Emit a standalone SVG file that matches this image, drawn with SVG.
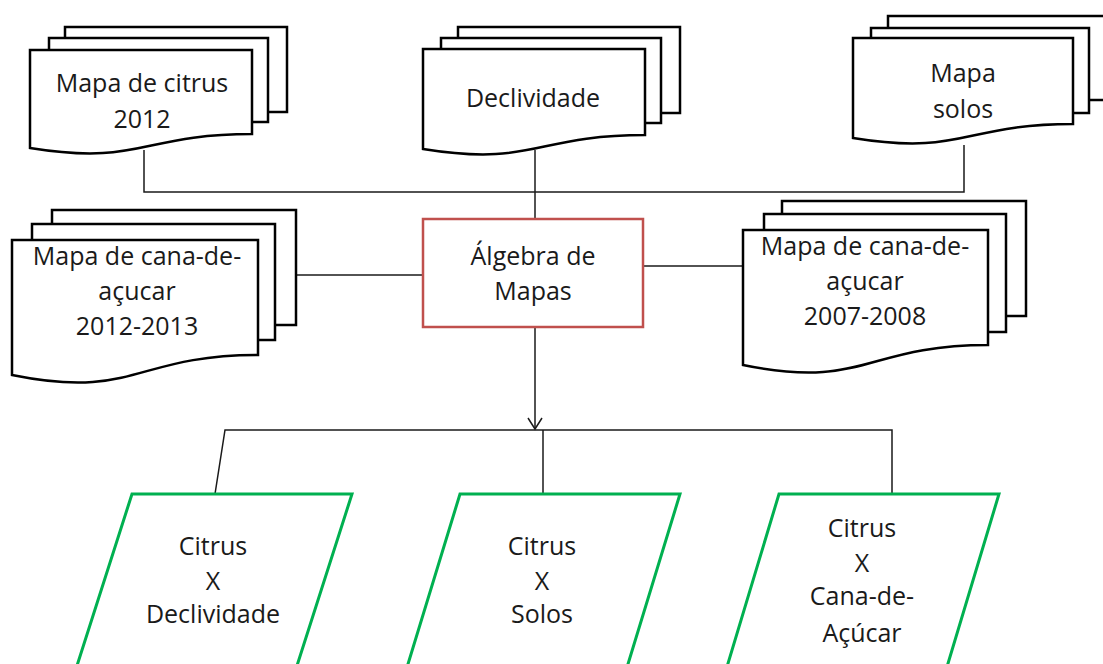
<svg xmlns="http://www.w3.org/2000/svg" width="1103" height="664" viewBox="0 0 1103 664">
<style>
.pg{fill:#fff;stroke:#000;stroke-width:2.5;stroke-linejoin:miter}
.io{fill:#fff;stroke:#00B050;stroke-width:3}
.proc{fill:#fff;stroke:#C0504D;stroke-width:2.5}
.cn{fill:none;stroke:#1a1a1a;stroke-width:1.5}
text{font-family:"Open Sans","Liberation Sans",sans-serif;font-size:25px;fill:#1a1a1a;text-anchor:middle}
</style>
<defs>
<marker id="arr" viewBox="0 0 14 16" refX="12" refY="8" markerWidth="14" markerHeight="16" markerUnits="userSpaceOnUse" orient="auto">
<path d="M1,1 L12,8 L1,15" fill="none" stroke="#1a1a1a" stroke-width="1.5"/>
</marker>
</defs>
<rect width="1103" height="664" fill="#fff"/>
<g id="connectors">
<path class="cn" d="M144,150 V192 H964 V145"/>
<path class="cn" d="M535,150 V219"/>
<path class="cn" d="M296,275 H423"/>
<path class="cn" d="M643,266 H743"/>
<path class="cn" d="M535,327 V429" marker-end="url(#arr)"/>
<path class="cn" d="M215,494 L225,430 H892 V494"/>
<path class="cn" d="M543,430 V494"/>
</g>
<g id="n-citrus2012">
<rect class="pg" x="65" y="27" width="222" height="85"/>
<rect class="pg" x="49" y="38" width="219" height="84"/>
<path class="pg" d="M30,50 H252 V134 C141,134 141,166 30,148 Z"/>
<text x="142" y="92">Mapa de citrus</text>
<text x="142" y="128">2012</text>
</g>
<g id="n-declividade">
<rect class="pg" x="458" y="27" width="222" height="86"/>
<rect class="pg" x="441" y="38" width="220" height="85"/>
<path class="pg" d="M423,49 H645 V135 C534,135 534,167 423,149 Z"/>
<text x="533" y="107">Declividade</text>
</g>
<g id="n-solos">
<rect class="pg" x="888" y="16" width="240" height="84"/>
<rect class="pg" x="871" y="28" width="218" height="85"/>
<path class="pg" d="M853,38 H1073 V124 C963,124 963,156 853,138 Z"/>
<text x="963" y="82">Mapa</text>
<text x="963" y="118">solos</text>
</g>
<g id="n-cana2012">
<rect class="pg" x="52" y="210" width="244" height="115"/>
<rect class="pg" x="32" y="224" width="243" height="116"/>
<path class="pg" d="M12,240 H258 V355 C135,355 135,400 12,375 Z"/>
<text x="137" y="265">Mapa de cana-de-</text>
<text x="137" y="300">açucar</text>
<text x="137" y="335">2012-2013</text>
</g>
<g id="n-cana2007">
<rect class="pg" x="782" y="201" width="244" height="115"/>
<rect class="pg" x="764" y="214" width="242" height="118"/>
<path class="pg" d="M743,230 H988 V345 C865,345 865,390 743,365 Z"/>
<text x="865" y="255">Mapa de cana-de-</text>
<text x="865" y="290">açucar</text>
<text x="865" y="325">2007-2008</text>
</g>
<g id="n-algebra">
<rect class="proc" x="423" y="219" width="220" height="108"/>
<text x="533" y="265">Álgebra de</text>
<text x="533" y="300">Mapas</text>
</g>
<g id="n-cxd">
<polygon class="io" points="132,494 352,494 286,700 66,700"/>
<text x="213" y="555">Citrus</text>
<text x="213" y="590">X</text>
<text x="213" y="623">Declividade</text>
</g>
<g id="n-cxs">
<polygon class="io" points="460,494 680,494 617,700 397,700"/>
<text x="542" y="555">Citrus</text>
<text x="542" y="590">X</text>
<text x="542" y="623">Solos</text>
</g>
<g id="n-cxc">
<polygon class="io" points="779,494 999,494 937,700 717,700"/>
<text x="862" y="537">Citrus</text>
<text x="862" y="572">X</text>
<text x="862" y="605">Cana-de-</text>
<text x="862" y="642">Açúcar</text>
</g>
</svg>
